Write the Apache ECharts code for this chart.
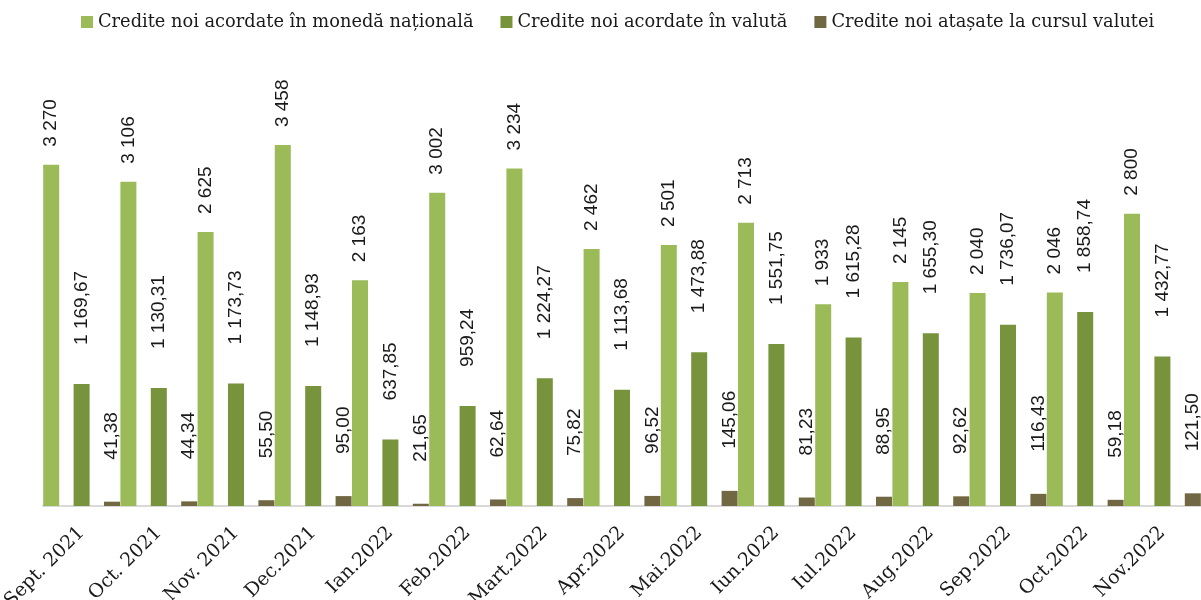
<!DOCTYPE html>
<html>
<head>
<meta charset="utf-8">
<script src="https://cdn.jsdelivr.net/npm/echarts@6/dist/echarts.min.js"></script>
<style>
  html, body { margin: 0; padding: 0; background: #fff; }
  #credite { width: 1201px; height: 600px; }
</style>
</head>
<body>
<div id="credite"></div>
<script>
// categorii (luni)
var luni = ['Sept. 2021', 'Oct. 2021', 'Nov. 2021', 'Dec.2021', 'Ian.2022', 'Feb.2022', 'Mart.2022',
    'Apr.2022', 'Mai.2022', 'Iun.2022', 'Iul.2022', 'Aug.2022', 'Sep.2022', 'Oct.2022', 'Nov.2022'];

// valori pe serii
var monedaNationala = [3270, 3106, 2625, 3458, 2163, 3002, 3234, 2462, 2501, 2713, 1933, 2145, 2040, 2046, 2800];
var valuta = [1169.67, 1130.31, 1173.73, 1148.93, 637.85, 959.24, 1224.27, 1113.68, 1473.88, 1551.75,
    1615.28, 1655.30, 1736.07, 1858.74, 1432.77];
var cursulValutei = [41.38, 44.34, 55.50, 95.00, 21.65, 62.64, 75.82, 96.52, 145.06, 81.23,
    88.95, 92.62, 116.43, 59.18, 121.50];

var numeSerii = ['Credite noi acordate în monedă națională', 'Credite noi acordate în valută',
    'Credite noi atașate la cursul valutei'];

// format cu spatiu la mii si virgula zecimala
function formatNr(v, zecimale) {
    var s = v.toFixed(zecimale).split('.');
    var intreg = s[0].replace(/\B(?=(\d{3})+(?!\d))/g, ' ');
    return s.length > 1 ? intreg + ',' + s[1] : intreg;
}

function eticheta(distanta, zecimale) {
    return {
        show: true,
        position: 'top',
        rotate: 90,
        align: 'left',
        verticalAlign: 'middle',
        distance: distanta,
        color: '#1a1a1a',
        fontFamily: 'Liberation Sans',
        fontSize: 19,
        formatter: function (p) { return formatNr(p.value, zecimale); }
    };
}

var grafic = echarts.init(document.getElementById('credite'));

var option = {
    animation: false,
    legend: {
        top: 8,
        left: 76,
        itemWidth: 12,
        itemHeight: 12,
        itemGap: 27,
        icon: 'rect',
        textStyle: { fontFamily: 'DejaVu Serif', fontSize: 17.8, color: '#1a1a1a' },
        data: numeSerii
    },
    grid: { left: 43, right: 0, top: 88.5, bottom: 94, outerBoundsMode: 'none', containLabel: false },
    xAxis: {
        type: 'category',
        data: luni,
        axisLine: { lineStyle: { color: '#d9d9d9', width: 2 } },
        axisTick: { show: false },
        axisLabel: {
            rotate: 45,
            margin: 24,
            interval: 0,
            color: '#1a1a1a',
            fontFamily: 'DejaVu Serif',
            fontSize: 19
        }
    },
    yAxis: {
        type: 'value',
        min: 0,
        max: 4000,
        show: false,
        splitLine: { show: false }
    },
    series: [
        {
            name: numeSerii[0],
            type: 'bar',
            data: monedaNationala,
            barWidth: 16,
            barGap: '90%',
            itemStyle: { color: '#9bbb59' },
            label: eticheta(18, 0)
        },
        {
            name: numeSerii[1],
            type: 'bar',
            data: valuta,
            barWidth: 16,
            barGap: '90%',
            itemStyle: { color: '#77933c' },
            label: eticheta(39, 2)
        },
        {
            name: numeSerii[2],
            type: 'bar',
            data: cursulValutei,
            barWidth: 16,
            barGap: '90%',
            itemStyle: { color: '#716843' },
            label: eticheta(42, 2)
        }
    ]
};

grafic.setOption(option);
</script>
</body>
</html>
